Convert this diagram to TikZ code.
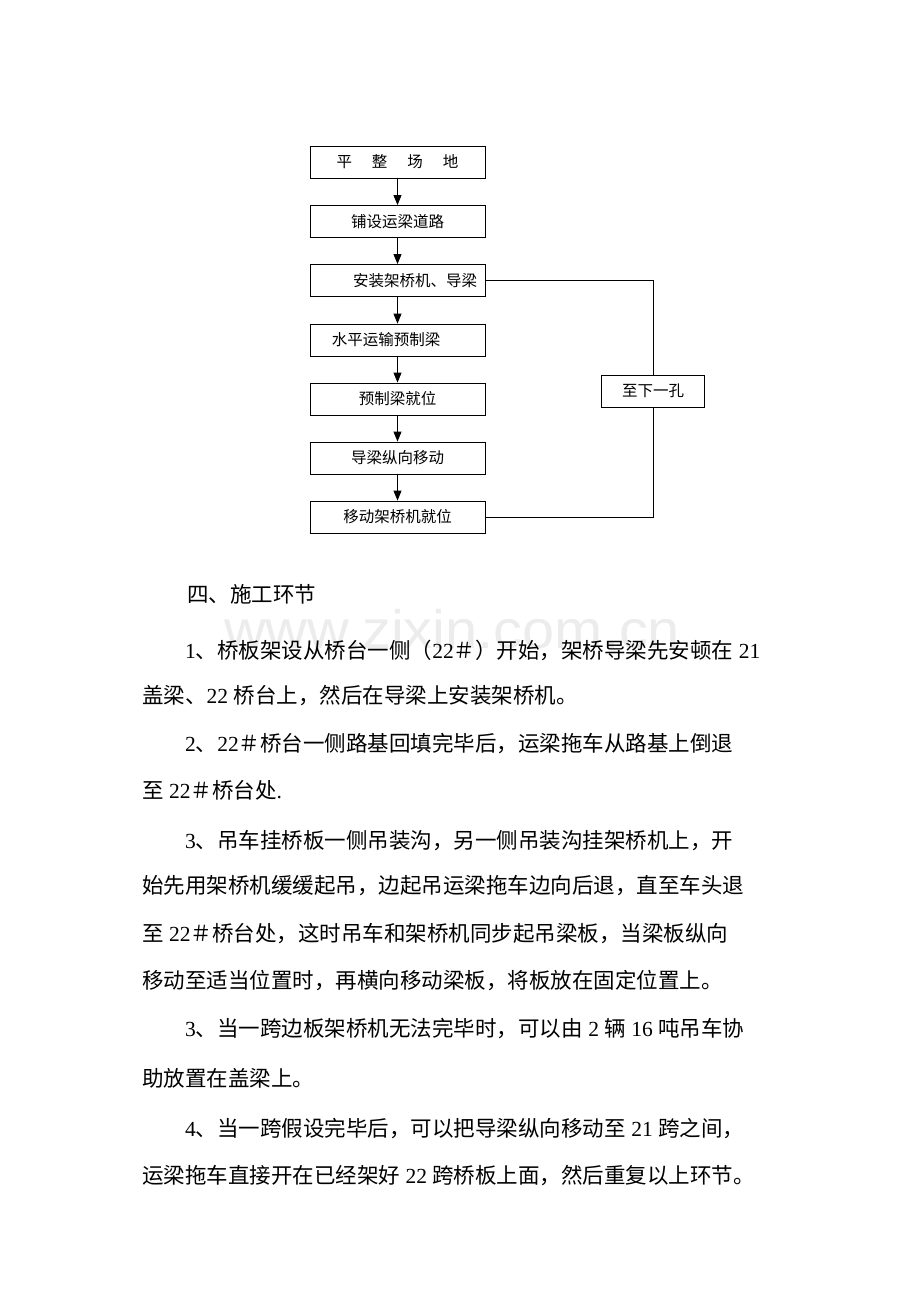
\documentclass[tikz,border=0pt]{standalone}
\usepackage{fontspec}
\setmainfont{Liberation Serif}
\newfontfamily\cjk{Noto Sans CJK SC}
\newfontfamily\wmfont{Liberation Sans}
\usetikzlibrary{arrows.meta}
\newcommand\dg[1]{{\rmfamily #1}}
\newcommand\jset{\XeTeXlinebreaklocale "zh"\XeTeXlinebreakskip=0pt plus 6pt\relax}
\newcommand\J{\parfillskip=0pt\relax}
\begin{document}
\begin{tikzpicture}[x=1pt,y=-1pt,
  box/.style={draw, line width=0.9pt, minimum width=175pt, minimum height=32pt, inner sep=0pt,
              font=\cjk\fontsize{15.5}{18}\selectfont},
  flow/.style={line width=0.9pt, -{Triangle[length=10pt,width=8pt]}},
  link/.style={line width=0.9pt},
  jline/.style={anchor=base west, inner sep=0pt, text width=#1, align=justify,
              font=\cjk\fontsize{21.5}{26}\selectfont\jset},
  pline/.style={anchor=base west, inner sep=0pt, font=\cjk\fontsize{21.5}{26}\selectfont},
  wmark/.style={anchor=base west, inner sep=0pt, text=gray!15, xscale=1.07,
              font=\wmfont\fontsize{54}{54}\selectfont}]
\fill[white] (0,0) rectangle (920,1302);
\useasboundingbox (0,0) rectangle (920,1302);

% flowchart
\node[box] (b1) at (397.5,162) {平\hspace{20pt}整\hspace{20pt}场\hspace{20pt}地};
\node[box] (b2) at (397.5,221.5) {铺设运梁道路};
\node[box] (b3) at (397.5,280.5) {\hspace*{35pt}安装架桥机、导梁};
\node[box] (b4) at (397.5,340) {水平运输预制梁\hspace*{23pt}};
\node[box] (b5) at (397.5,399) {预制梁就位};
\node[box] (b6) at (397.5,458) {导梁纵向移动};
\node[box] (b7) at (397.5,517) {移动架桥机就位};
\node[box, minimum width=103pt] (side) at (653,391) {至下一孔};

\draw[flow] (b1) -- (b2);
\draw[flow] (b2) -- (b3);
\draw[flow] (b3) -- (b4);
\draw[flow] (b4) -- (b5);
\draw[flow] (b5) -- (b6);
\draw[flow] (b6) -- (b7);
\draw[link] (b3.east) -| (side.north);
\draw[link] (side.south) |- (b7.east);

% watermark
\node[wmark] (wm) at (224,648) {www.zixin.com.cn};

% body text
\node[pline] (t0) at (187,602) {四、施工环节};
\node[jline=597pt] (t1) at (185,658) {\J\dg{1}、桥板架设从桥台一侧（\dg{22}＃）开始，架桥导梁先安顿在\dg{ 21}};
\node[pline] (t2) at (142,703) {盖梁、\dg{22 }桥台上，然后在导梁上安装架桥机。};
\node[jline=597pt] (t3) at (185,751) {\J\dg{2}、\dg{22}＃桥台一侧路基回填完毕后，运梁拖车从路基上倒退};
\node[pline] (t4) at (142,798) {至\dg{ 22}＃桥台处\dg{.}};
\node[jline=597pt] (t5) at (185,848) {\J\dg{3}、吊车挂桥板一侧吊装沟，另一侧吊装沟挂架桥机上，开};
\node[jline=639pt] (t6) at (142,893) {\J 始先用架桥机缓缓起吊，边起吊运梁拖车边向后退，直至车头退};
\node[jline=639pt] (t7) at (142,941) {\J 至\dg{ 22}＃桥台处，这时吊车和架桥机同步起吊梁板，当梁板纵向};
\node[pline] (t8) at (142,988) {移动至适当位置时，再横向移动梁板，将板放在固定位置上。};
\node[jline=597pt] (t9) at (185,1036) {\J\dg{3}、当一跨边板架桥机无法完毕时，可以由\dg{ 2 }辆\dg{ 16 }吨吊车协};
\node[pline] (t10) at (142,1086) {助放置在盖梁上。};
\node[jline=597pt] (t11) at (185,1136) {\J\dg{4}、当一跨假设完毕后，可以把导梁纵向移动至\dg{ 21 }跨之间，};
\node[jline=639pt] (t12) at (142,1183) {\J 运梁拖车直接开在已经架好\dg{ 22 }跨桥板上面，然后重复以上环节。};
\end{tikzpicture}
\end{document}
